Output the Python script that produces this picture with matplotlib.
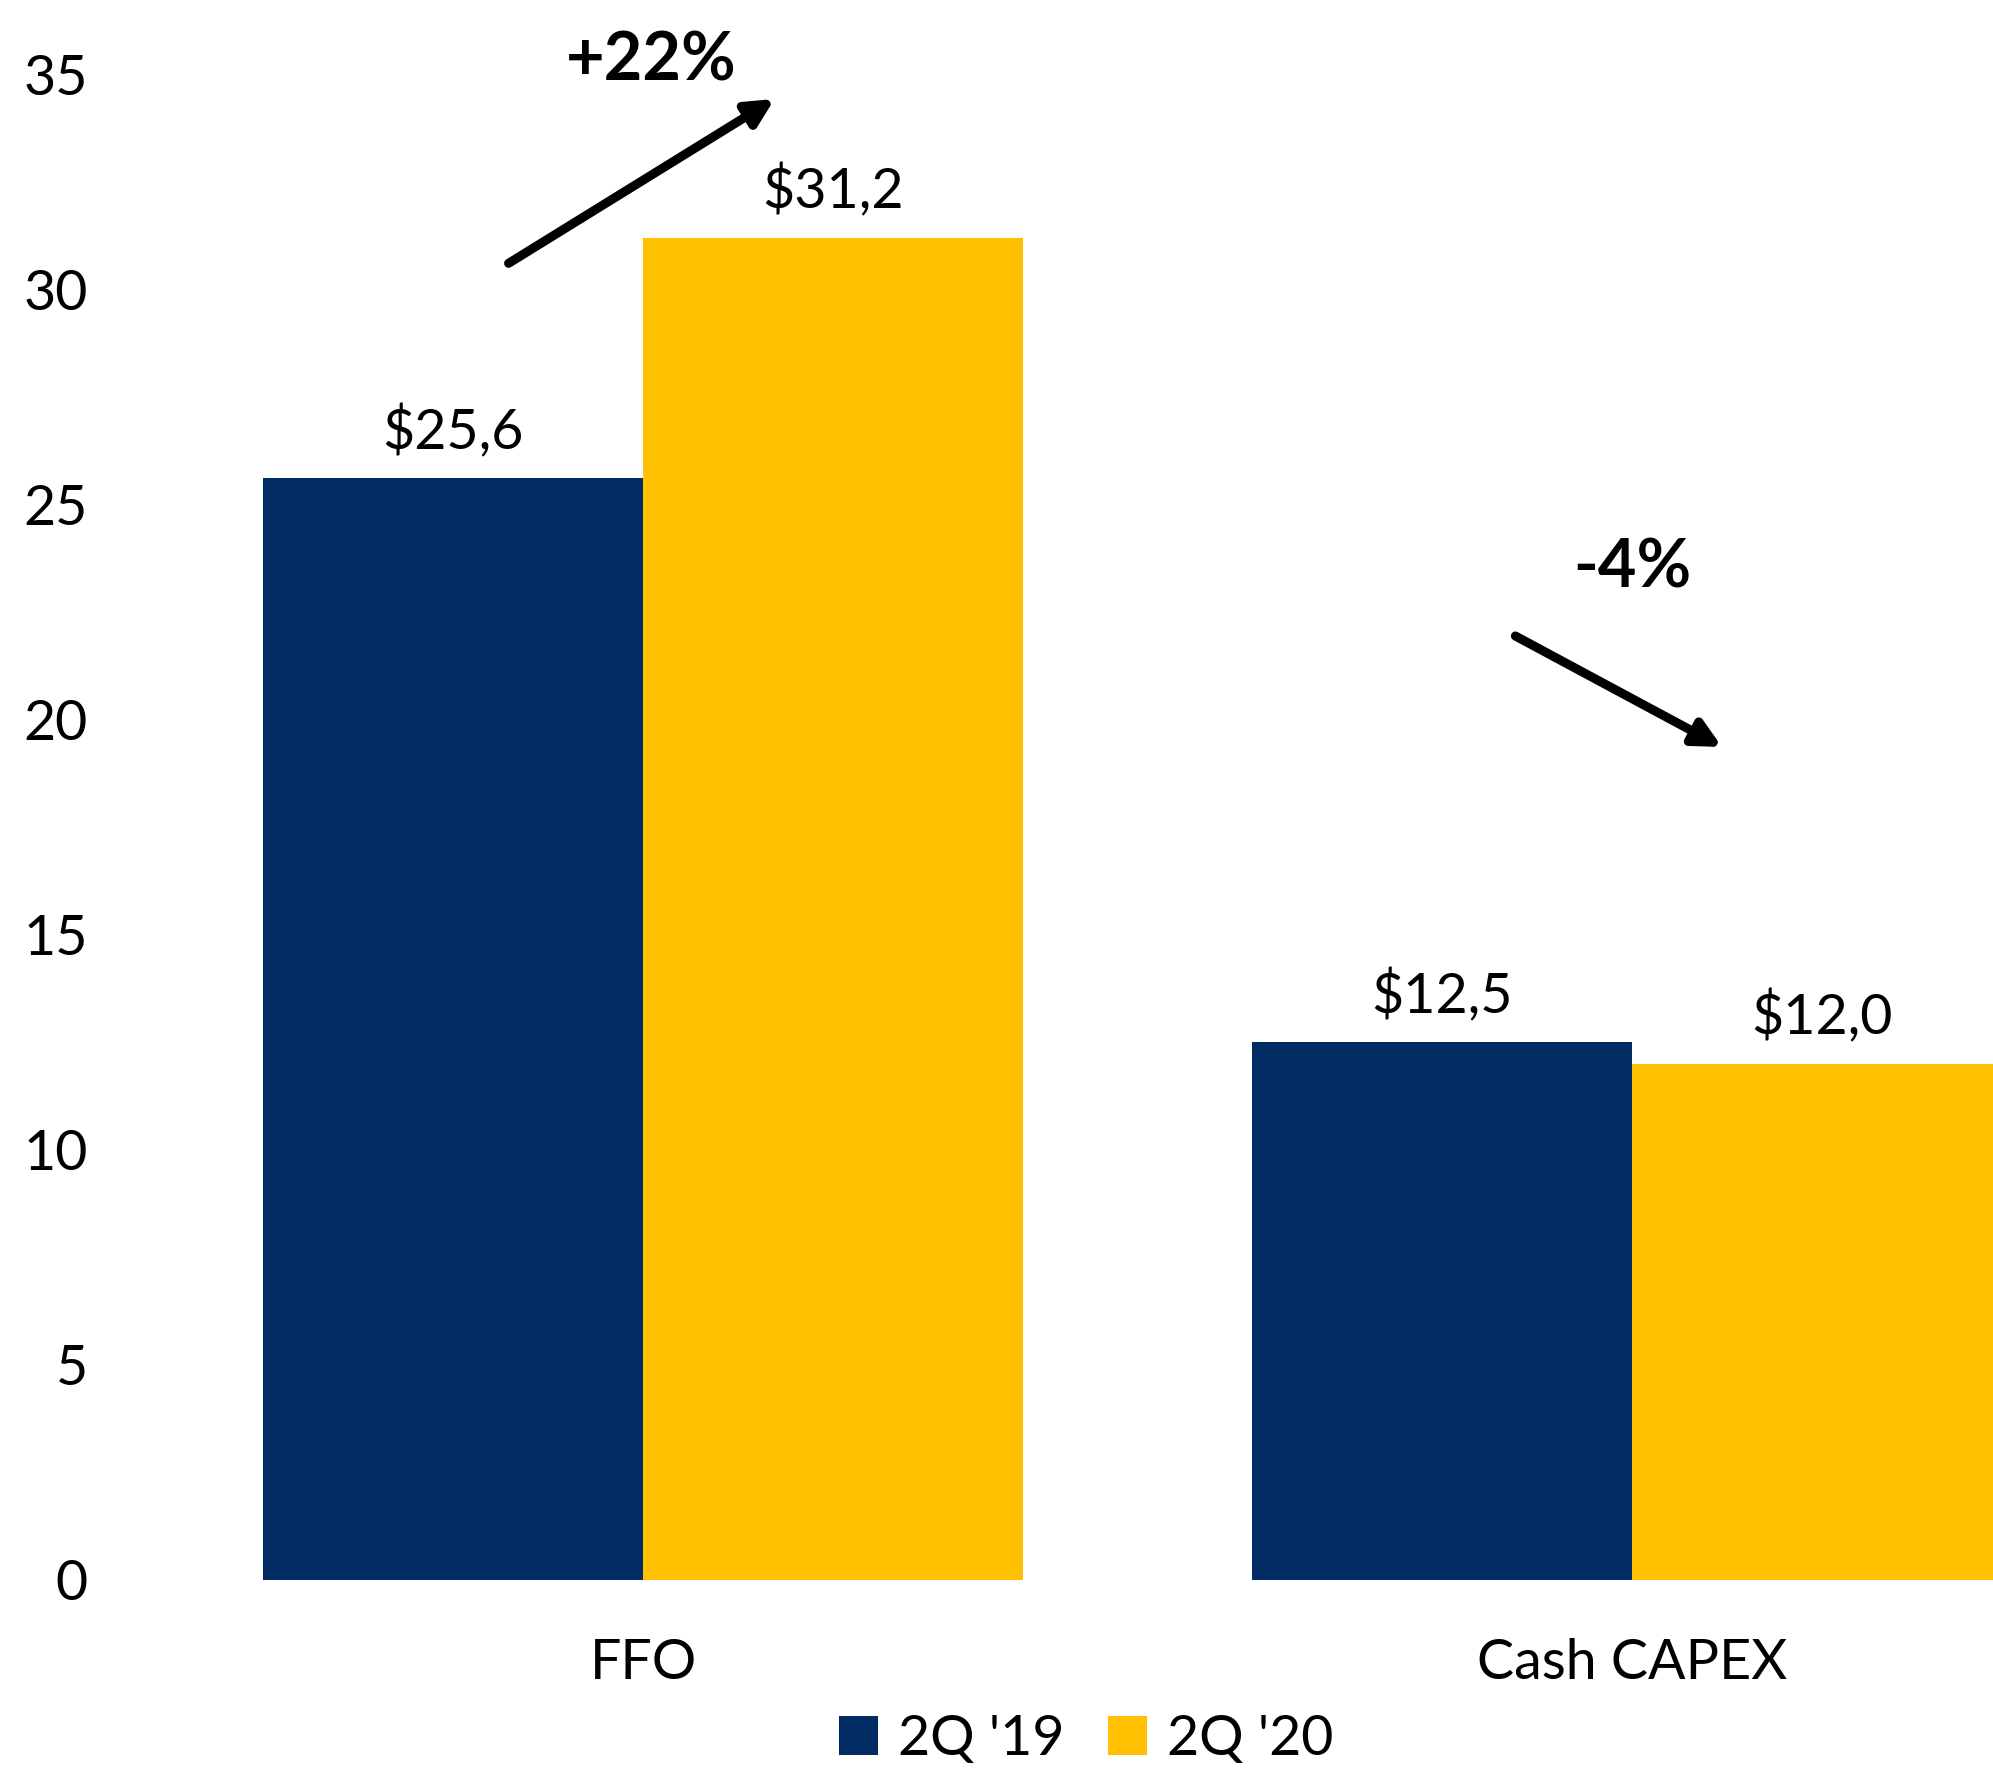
import matplotlib
matplotlib.use("Agg")
import matplotlib.pyplot as plt
import numpy as np

# --- data ---
categories = ["FFO", "Cash CAPEX"]
series_names = ["2Q '19", "2Q '20"]
values_2q19 = [25.6, 12.5]
values_2q20 = [31.2, 12.0]
value_labels_2q19 = ["$25,6", "$12,5"]
value_labels_2q20 = ["$31,2", "$12,0"]
change_labels = ["+22%", "-4%"]
y_ticks = [0, 5, 10, 15, 20, 25, 30, 35]

navy = "#032B63"
gold = "#FFC000"

plt.rcParams['font.family'] = ['Lato', 'DejaVu Sans']

fig = plt.figure(figsize=(19.93, 17.68), dpi=100)
ax = fig.add_axes([110 / 1993, 188 / 1768, 1 - 110 / 1993, 1506 / 1768])

x = np.arange(len(categories))
w = 0.384
ax.bar(x - w / 2, values_2q19, w, color=navy, label=series_names[0])
ax.bar(x + w / 2, values_2q20, w, color=gold, label=series_names[1])

# value labels above bars
for xi, v, s in zip(x - w / 2, values_2q19, value_labels_2q19):
    ax.text(xi, v + 1.07, s, ha='center', va='center', fontsize=40)
for xi, v, s in zip(x + w / 2, values_2q20, value_labels_2q20):
    ax.text(xi, v + 1.07, s, ha='center', va='center', fontsize=40)

# change arrows
arrow_kw = dict(arrowstyle='-|>,head_length=1.6,head_width=0.8', color='black',
                lw=6.5, shrinkA=0, shrinkB=0)
ax.annotate("", xy=(0.133, 34.42), xytext=(-0.136, 30.6),
            arrowprops=arrow_kw, annotation_clip=False)
ax.annotate("", xy=(1.091, 19.36), xytext=(0.882, 21.94),
            arrowprops=arrow_kw, annotation_clip=False)
ax.text(0.008, 35.3, change_labels[0], ha='center', va='center',
        fontsize=48, fontweight='bold', clip_on=False)
ax.text(1.0, 23.5, change_labels[1], ha='center', va='center',
        fontsize=48, fontweight='bold', clip_on=False)

ax.set_xlim(-0.539, 1.365)
ax.set_ylim(0, 35)
ax.set_xticks(x)
ax.set_xticklabels(categories)
ax.set_yticks(y_ticks)
ax.tick_params(axis='both', length=0, labelsize=40)
ax.tick_params(axis='x', pad=42)
ax.tick_params(axis='y', pad=16)
for sp in ax.spines.values():
    sp.set_visible(False)

fig.legend(loc='center', bbox_to_anchor=(0.545, 0.016), ncol=2, frameon=False,
           fontsize=40, handlelength=0.7, handleheight=0.7,
           handletextpad=0.35, columnspacing=0.8)

fig.savefig("out.png", dpi=100)
